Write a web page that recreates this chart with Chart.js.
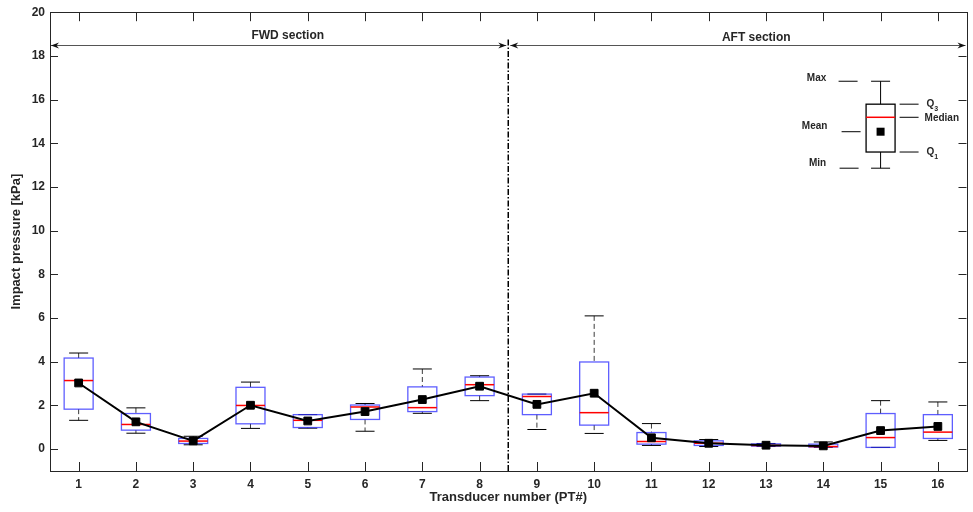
<!DOCTYPE html>
<html lang="en">
<head>
    <meta charset="UTF-8">
    <title>Impact pressure per transducer</title>
    <script src="https://cdn.jsdelivr.net/npm/chart.js@4.4.1/dist/chart.umd.min.js"></script>
    <style>
        html, body { margin: 0; padding: 0; background: #fff; }
    </style>
</head>
<body>

<canvas id="box-chart" width="973" height="512"></canvas>

<script>
    // transducer numbers
    const categories = ['1', '2', '3', '4', '5', '6', '7', '8', '9', '10', '11', '12', '13', '14', '15', '16'];

    // box statistics per transducer [kPa]
    const maxVals    = [4.40, 1.89, 0.59, 3.07, 1.58, 2.09, 3.67, 3.36, 2.52, 6.10, 1.17, 0.44, 0.26, 0.33, 2.22, 2.16];
    const q3Vals     = [4.17, 1.63, 0.49, 2.83, 1.58, 2.02, 2.85, 3.30, 2.52, 3.99, 0.76, 0.38, 0.24, 0.23, 1.63, 1.58];
    const medianVals = [3.14, 1.13, 0.37, 2.00, 1.32, 1.93, 1.90, 2.95, 2.41, 1.67, 0.35, 0.27, 0.17, 0.12, 0.53, 0.78];
    const q1Vals     = [1.83, 0.87, 0.26, 1.16, 0.99, 1.36, 1.72, 2.45, 1.58, 1.10, 0.23, 0.17, 0.14, 0.10, 0.08, 0.49];
    const minVals    = [1.32, 0.73, 0.20, 0.95, 0.96, 0.82, 1.64, 2.22, 0.90, 0.72, 0.17, 0.12, 0.12, 0.08, 0.08, 0.40];
    const meanVals   = [3.03, 1.25, 0.38, 2.01, 1.29, 1.72, 2.27, 2.88, 2.05, 2.56, 0.52, 0.27, 0.18, 0.15, 0.85, 1.04];

    const yTicks = [0, 2, 4, 6, 8, 10, 12, 14, 16, 18, 20];

    // explanation box (drawn at transducer 15)
    const legendStats  = {max: 16.84, q3: 15.79, median: 15.19, mean: 14.53, q1: 13.60, min: 12.86};
    const legendLeft   = ['Max', 'Mean', 'Min'];
    const legendRight  = ['Q', 'Median', 'Q'];

    const sectionLabels = ['FWD section', 'AFT section'];
    const sectionArrowLevel = 18.5;

    const textColor = '#262626';

    function line(ctx, x1, y1, x2, y2) {
        ctx.beginPath();
        ctx.moveTo(x1, y1);
        ctx.lineTo(x2, y2);
        ctx.stroke();
    }

    function arrowHead(ctx, tipX, tipY, dir) {
        // dir = -1 points left, 1 points right
        ctx.beginPath();
        ctx.moveTo(tipX - dir * 8, tipY - 3);
        ctx.lineTo(tipX, tipY);
        ctx.lineTo(tipX - dir * 8, tipY + 3);
        ctx.lineTo(tipX - dir * 5.5, tipY);
        ctx.closePath();
        ctx.fill();
    }

    function drawBox(ctx, cx, half, capHalf, y, s, boxColor, dashed) {
        const yMax = y.getPixelForValue(s.max);
        const yQ3 = y.getPixelForValue(s.q3);
        const yMed = y.getPixelForValue(s.median);
        const yQ1 = y.getPixelForValue(s.q1);
        const yMin = y.getPixelForValue(s.min);

        ctx.lineWidth = 1;
        ctx.strokeStyle = dashed ? '#3a3a3a' : '#000';
        ctx.setLineDash(dashed ? [5, 3] : []);
        if (yQ3 - yMax > 0.5) line(ctx, cx, yMax, cx, yQ3);
        if (yMin - yQ1 > 0.5) line(ctx, cx, yQ1, cx, yMin);
        ctx.setLineDash([]);

        ctx.strokeStyle = '#000';
        line(ctx, cx - capHalf, yMax, cx + capHalf, yMax);
        line(ctx, cx - capHalf, yMin, cx + capHalf, yMin);

        ctx.strokeStyle = boxColor;
        ctx.lineWidth = 1.3;
        ctx.strokeRect(cx - half, yQ3, 2 * half, Math.max(yQ1 - yQ3, 1));

        ctx.strokeStyle = '#ff0000';
        ctx.lineWidth = 1.5;
        line(ctx, cx - half, yMed, cx + half, yMed);
    }

    const boxPlugin = {
        id: 'boxes',
        beforeDatasetsDraw(chart) {
            const {ctx, scales: {x, y}} = chart;
            const step = x.getPixelForValue(1) - x.getPixelForValue(0);
            const half = step * 0.253;
            const capHalf = step * 0.166;
            ctx.save();
            for (let i = 0; i < categories.length; i++) {
                const stats = {max: maxVals[i], q3: q3Vals[i], median: medianVals[i], q1: q1Vals[i], min: minVals[i]};
                drawBox(ctx, x.getPixelForValue(i), half, capHalf, y, stats, 'rgba(40,40,255,0.75)', true);
            }

            // explanation box
            const cx = x.getPixelForValue(14);
            drawBox(ctx, cx, half, capHalf, y, legendStats, '#000', false);
            const my = y.getPixelForValue(legendStats.mean);
            ctx.fillStyle = '#000';
            ctx.fillRect(cx - 4, my - 4, 8, 8);

            ctx.strokeStyle = '#000';
            ctx.lineWidth = 1;
            ctx.fillStyle = textColor;
            ctx.font = 'bold 10px "Liberation Sans", Arial, sans-serif';
            ctx.textBaseline = 'middle';

            const leftVals = [legendStats.max, legendStats.mean, legendStats.min];
            const leftOff = [[-42, -23, -64, -3], [-39, -20, -66, -5], [-41, -22, -63, -5]];
            ctx.textAlign = 'center';
            for (let k = 0; k < legendLeft.length; k++) {
                const ly = y.getPixelForValue(leftVals[k]);
                line(ctx, cx + leftOff[k][0], ly, cx + leftOff[k][1], ly);
                ctx.fillText(legendLeft[k], cx + leftOff[k][2], ly + leftOff[k][3]);
            }

            const rightVals = [legendStats.q3, legendStats.median, legendStats.q1];
            const subs = ['3', '', '1'];
            ctx.textAlign = 'left';
            for (let k = 0; k < legendRight.length; k++) {
                const ly = y.getPixelForValue(rightVals[k]);
                const tx = k === 1 ? cx + 44 : cx + 46;
                line(ctx, cx + 19, ly, cx + 38, ly);
                ctx.font = 'bold 10px "Liberation Sans", Arial, sans-serif';
                ctx.fillText(legendRight[k], tx, ly + (k === 1 ? 1 : 0));
                if (subs[k]) {
                    const w = ctx.measureText(legendRight[k]).width;
                    ctx.font = 'bold 7px "Liberation Sans", Arial, sans-serif';
                    ctx.fillText(subs[k], tx + w, ly + 5);
                }
            }
            ctx.restore();
        },
        afterDraw(chart) {
            const {ctx, chartArea: a, scales: {x, y}} = chart;
            ctx.save();

            // frame and inward ticks
            ctx.strokeStyle = textColor;
            ctx.lineWidth = 1;
            ctx.strokeRect(Math.round(a.left) + 0.5, Math.round(a.top) + 0.5,
                Math.round(a.right - a.left), Math.round(a.bottom - a.top));
            yTicks.forEach(v => {
                const py = Math.round(y.getPixelForValue(v)) + 0.5;
                line(ctx, a.left, py, a.left + 8, py);
                line(ctx, a.right - 8, py, a.right, py);
            });
            categories.forEach((c, i) => {
                const px = Math.round(x.getPixelForValue(i)) + 0.5;
                line(ctx, px, a.bottom, px, a.bottom - 9);
                line(ctx, px, a.top, px, a.top + 9);
            });

            // section arrows and divider
            const divX = x.getPixelForValue(7.5);
            const ay = Math.round(y.getPixelForValue(sectionArrowLevel)) + 0.5;
            ctx.strokeStyle = '#555';
            line(ctx, a.left + 1, ay, divX - 2, ay);
            line(ctx, divX + 2, ay, a.right - 1, ay);
            ctx.fillStyle = '#111';
            arrowHead(ctx, a.left + 1, ay, -1);
            arrowHead(ctx, divX - 2, ay, 1);
            arrowHead(ctx, divX + 2, ay, -1);
            arrowHead(ctx, a.right - 1, ay, 1);

            ctx.strokeStyle = '#000';
            ctx.lineWidth = 1.5;
            ctx.setLineDash([6, 2, 1.5, 2]);
            line(ctx, divX, ay - 6, divX, a.bottom);
            ctx.setLineDash([]);

            ctx.fillStyle = textColor;
            ctx.font = 'bold 12px "Liberation Sans", Arial, sans-serif';
            ctx.textAlign = 'center';
            ctx.textBaseline = 'middle';
            ctx.fillText(sectionLabels[0], x.getPixelForValue(3.65), ay - 10);
            ctx.fillText(sectionLabels[1], x.getPixelForValue(11.83), ay - 8);
            ctx.restore();
        }
    };

    new Chart(document.getElementById('box-chart'), {
        type: 'line',
        data: {
            labels: categories,
            datasets: [{
                label: 'Mean',
                data: meanVals,
                borderColor: '#000',
                borderWidth: 2,
                backgroundColor: '#000',
                pointStyle: 'rect',
                pointRadius: 5.5,
                pointBorderWidth: 1,
                pointBackgroundColor: '#000',
                tension: 0,
                fill: false
            }]
        },
        options: {
            responsive: false,
            animation: false,
            layout: {padding: {top: 11, right: 5, left: 0, bottom: 0}},
            plugins: {
                legend: {display: false},
                tooltip: {enabled: false}
            },
            scales: {
                x: {
                    type: 'category',
                    offset: true,
                    grid: {display: false, drawTicks: false, tickLength: 0},
                    border: {display: false},
                    ticks: {
                        color: textColor,
                        padding: 6,
                        maxRotation: 0,
                        font: {family: '"Liberation Sans", Arial, sans-serif', size: 12, weight: 'bold'}
                    },
                    title: {
                        display: true,
                        text: 'Transducer number (PT#)',
                        color: textColor,
                        padding: {top: 0, bottom: 7},
                        font: {family: '"Liberation Sans", Arial, sans-serif', size: 13, weight: 'bold'}
                    },
                    afterFit(scale) { scale.height = 41; }
                },
                y: {
                    min: -1,
                    max: 20,
                    grid: {display: false, drawTicks: false, tickLength: 0},
                    border: {display: false},
                    afterBuildTicks(scale) { scale.ticks = yTicks.map(v => ({value: v})); },
                    ticks: {
                        color: textColor,
                        padding: 5,
                        font: {family: '"Liberation Sans", Arial, sans-serif', size: 12, weight: 'bold'}
                    },
                    title: {
                        display: true,
                        text: 'Impact pressure [kPa]',
                        color: textColor,
                        padding: {top: 9, bottom: 0},
                        font: {family: '"Liberation Sans", Arial, sans-serif', size: 13, weight: 'bold'}
                    },
                    afterFit(scale) { scale.width = 50; }
                }
            }
        },
        plugins: [boxPlugin]
    });
</script>

</body>
</html>
